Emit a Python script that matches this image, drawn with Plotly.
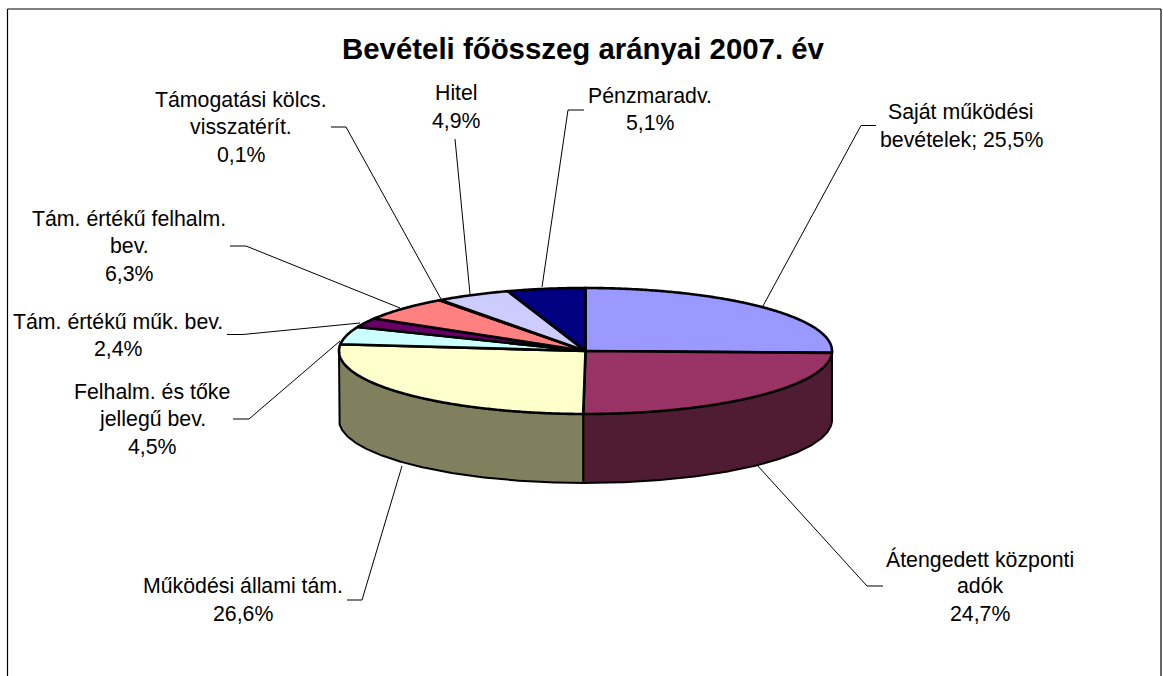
import numpy as np
import plotly.graph_objects as go

TITLE = "Bevételi főösszeg arányai 2007. év"
categories = ["Saját működési bevételek", "Átengedett központi adók", "Működési állami tám.",
              "Felhalm. és tőke jellegű bev.", "Tám. értékű műk. bev.", "Tám. értékű felhalm. bev.",
              "Támogatási kölcs. visszatérít.", "Hitel", "Pénzmaradv."]
values = [25.5, 24.7, 26.6, 4.5, 2.4, 6.3, 0.1, 4.9, 5.1]
top_colors = ["#9999FF", "#993366", "#FFFFCC", "#CCFFFF", "#660066", "#FF8080", "#0066CC", "#CCCCFF", "#000080"]
side_colors = ["#4D4D80", "#4F1C33", "#80805F", "#668080", "#330033", "#804040", "#003366", "#666680", "#000040"]

label_lines = [["Saját működési", "bevételek; 25,5%"], ["Átengedett központi", "adók", "24,7%"],
               ["Működési állami tám.", "26,6%"], ["Felhalm. és tőke", "jellegű bev.", "4,5%"],
               ["Tám. értékű műk. bev.", "2,4%"], ["Tám. értékű felhalm.", "bev.", "6,3%"],
               ["Támogatási kölcs.", "visszatérít.", "0,1%"], ["Hitel", "4,9%"], ["Pénzmaradv.", "5,1%"]]
label_x = [961, 980, 243, 152, 118, 129, 241, 456, 650]
label_y = [[112, 140], [559, 586, 614], [586, 614], [392, 419, 447], [322, 349],
           [219, 246, 274], [100, 127, 155], [93, 121], [96, 123]]
leaders = [[(876, 125.5), (861, 125.5), (763, 306)], [(883, 586), (867, 586), (757, 465)],
           [(347, 600), (362, 600), (402, 466)], [(233, 419), (249, 419), (340, 341)],
           [(227, 334.5), (243, 334.5), (360, 323)], [(230, 246), (246, 246), (400, 308)],
           [(331, 127), (346, 127), (441, 299)], [(455, 139), (470, 294)],
           [(584, 110), (568, 110), (542, 287)]]

CX, CY, RX, RY, DEPTH = 585.5, 351, 246.5, 63, 69

def arc(a, b, dy=0.0):
    t = np.radians(np.linspace(a, b, max(int(abs(b - a) * 2), 2)))
    return CX + RX * np.sin(t), CY - RY * np.cos(t) + dy

edges = np.concatenate([[0], np.cumsum(values)]) / sum(values) * 360
fig = go.Figure()

# walls of the cylinder: only the front half (90°..270°) is visible
for i in range(len(values)):
    a, b = max(edges[i], 90), min(edges[i + 1], 270)
    if b <= a:
        continue
    x1, y1 = arc(a, b)
    x2, y2 = arc(b, a, DEPTH)
    fig.add_trace(go.Scatter(x=np.r_[x1, x2, x1[0]], y=np.r_[y1, y2, y1[0]], mode="lines", fill="toself",
                             fillcolor=side_colors[i], line=dict(color="black", width=2), hoverinfo="skip"))

# top face
for i in range(len(values)):
    x1, y1 = arc(edges[i], edges[i + 1])
    fig.add_trace(go.Scatter(x=np.r_[CX, x1, CX], y=np.r_[CY, y1, CY], mode="lines", fill="toself",
                             fillcolor=top_colors[i], line=dict(color="black", width=2.6, simplify=False),
                             name=categories[i], hoverinfo="name"))

for pts in leaders:
    fig.add_trace(go.Scatter(x=[p[0] for p in pts], y=[p[1] for p in pts], mode="lines",
                             line=dict(color="black", width=1), hoverinfo="skip"))

ann = []
for lines, lx, ys in zip(label_lines, label_x, label_y):
    for txt, ly in zip(lines, ys):
        ann.append(dict(x=lx, y=ly, text=txt, showarrow=False, xanchor="center", yanchor="middle",
                        font=dict(family="Liberation Sans, Arial", size=21.3, color="black")))
ann.append(dict(x=583, y=48, text=f"<b>{TITLE}</b>", showarrow=False, xanchor="center", yanchor="middle",
                font=dict(family="Liberation Sans, Arial", size=29.4, color="black")))

frame = [dict(type="line", x0=7.5, x1=7.5, y0=9, y1=676), dict(type="line", x0=7.5, x1=1161, y0=9, y1=9),
         dict(type="line", x0=1161, x1=1161, y0=9, y1=676)]
for s in frame:
    s.update(line=dict(color="black", width=1.2), layer="below")

fig.update_layout(width=1163, height=676, margin=dict(l=0, r=0, t=0, b=0), showlegend=False,
                  paper_bgcolor="white", plot_bgcolor="white", annotations=ann, shapes=frame,
                  xaxis=dict(range=[0, 1163], visible=False, fixedrange=True),
                  yaxis=dict(range=[676, 0], visible=False, fixedrange=True))
fig.write_html("out.html", config=dict(displayModeBar=False),
               post_script="document.body.style.margin='0';document.documentElement.style.overflow='hidden';")
